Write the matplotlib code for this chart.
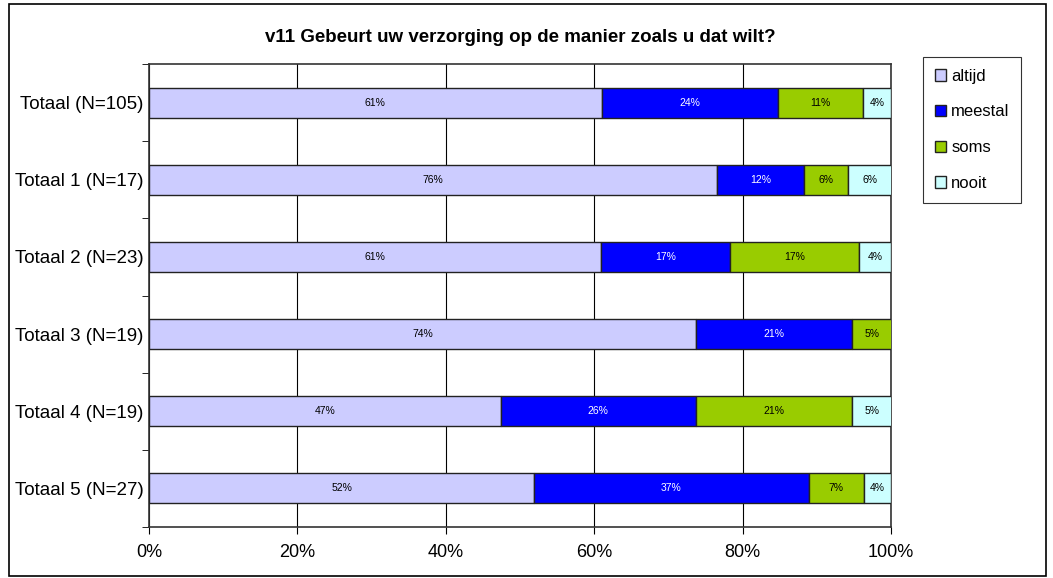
import matplotlib.pyplot as plt
from matplotlib.patches import Rectangle

# categorieen en percentages per antwoord
groepen = ['Totaal (N=105)', 'Totaal 1 (N=17)', 'Totaal 2 (N=23)',
           'Totaal 3 (N=19)', 'Totaal 4 (N=19)', 'Totaal 5 (N=27)']
altijd = [61.0, 76.5, 60.9, 73.7, 47.4, 51.9]
meestal = [23.8, 11.8, 17.4, 21.1, 26.3, 37.0]
soms = [11.4, 5.9, 17.4, 5.3, 21.1, 7.4]
nooit = [3.8, 5.9, 4.3, 0.0, 5.3, 3.7]

reeksen = ['altijd', 'meestal', 'soms', 'nooit']
kleuren = ['#ccccff', '#0000ff', '#99cc00', '#ccffff']
tekstkleur = ['black', 'white', 'black', 'black']

fig = plt.figure(figsize=(10.53, 5.78), dpi=100)
plt.rcParams['font.family'] = ['Liberation Sans', 'DejaVu Sans']

fig.patches.append(Rectangle((9 / 1053, 2 / 578), 1037 / 1053, 572 / 578,
                             transform=fig.transFigure, fill=False,
                             edgecolor='black', linewidth=1.2))

ax = fig.add_axes([149 / 1053, 51 / 578, 742 / 1053, 463 / 578])

y = list(range(len(groepen)))
links = [0.0] * len(groepen)
for naam, waarden, kleur, tk in zip(reeksen, [altijd, meestal, soms, nooit], kleuren, tekstkleur):
    ax.barh(y, waarden, left=links, height=0.39, color=kleur,
            edgecolor='#222222', linewidth=1, label=naam, zorder=3)
    for i, w in enumerate(waarden):
        if w > 0:
            ax.text(links[i] + w / 2, i, f'{round(w)}%', ha='center', va='center',
                    fontsize=7.5, color=tk, zorder=4)
    links = [a + b for a, b in zip(links, waarden)]

ax.set_xlim(0, 100)
ax.set_ylim(len(groepen) - 0.5, -0.5)
ax.set_xticks([0, 20, 40, 60, 80, 100])
ax.set_xticklabels(['0%', '20%', '40%', '60%', '80%', '100%'], fontsize=13)
ax.set_yticks(y)
ax.set_yticklabels(groepen, fontsize=13.5)
ax.set_yticks([i - 0.5 for i in range(len(groepen) + 1)], minor=True)
ax.tick_params(axis='y', which='major', length=0, pad=4)
ax.tick_params(axis='y', which='minor', length=5, direction='out')
ax.tick_params(axis='x', length=5, direction='out', pad=7)
ax.grid(axis='x', color='black', linewidth=0.8, zorder=0)
for s in ax.spines.values():
    s.set_color('#333333')
    s.set_linewidth(1.2)

ax.set_title('v11 Gebeurt uw verzorging op de manier zoals u dat wilt?',
             fontsize=13.5, fontweight='bold', pad=16)

leg = fig.legend(loc='upper left', bbox_to_anchor=(923 / 1053, 1 - 57 / 578),
                 fontsize=12, frameon=True, fancybox=False, edgecolor='black',
                 handlelength=0.7, handleheight=0.7, handletextpad=0.3,
                 labelspacing=1.25, borderpad=0.7, borderaxespad=0)
leg.get_frame().set_linewidth(0.8)

plt.savefig('out.png', dpi=100)
